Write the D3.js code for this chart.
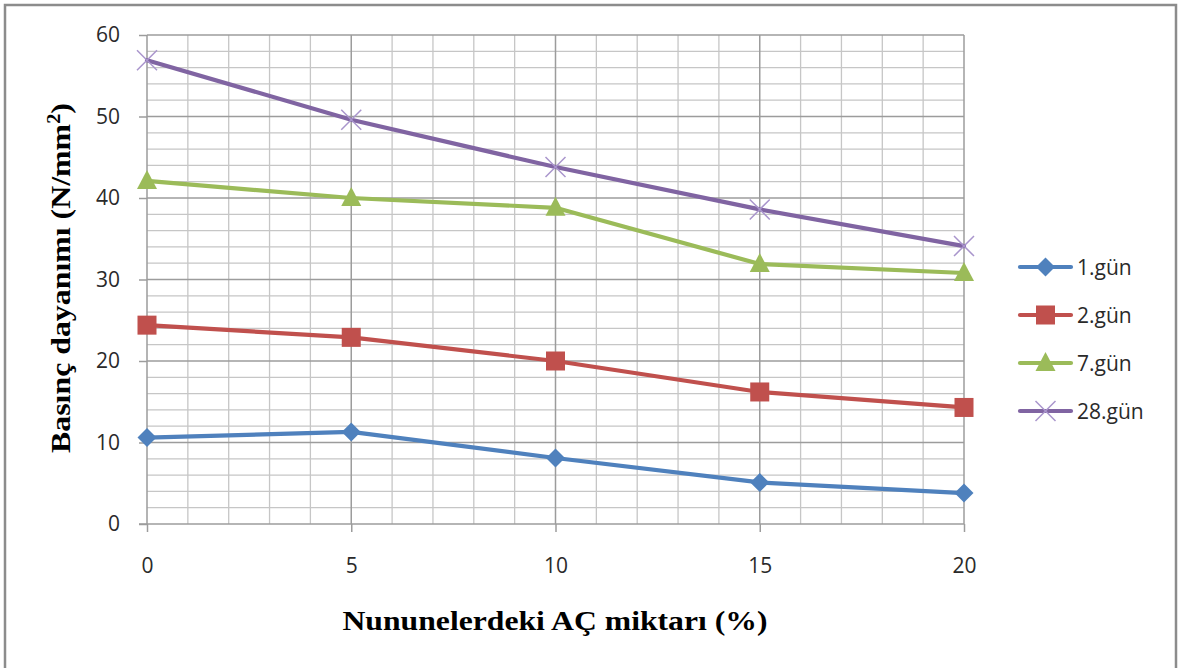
<!DOCTYPE html>
<html>
<head>
<meta charset="utf-8">
<script src="https://cdn.jsdelivr.net/npm/d3@7"></script>
<style>
  html, body { margin: 0; padding: 0; background: #fff; }
  svg { display: block; }
</style>
</head>
<body>
<svg id="chart" width="1179" height="668"></svg>
<script>
// AÇ content (%) of the specimens
const categories = [0, 5, 10, 15, 20];

// Compressive strength (N/mm²) by curing age
const gun1  = [10.6, 11.3, 8.1, 5.1, 3.8];
const gun2  = [24.4, 22.9, 20.0, 16.2, 14.3];
const gun7  = [42.1, 40.0, 38.8, 31.9, 30.8];
const gun28 = [56.9, 49.6, 43.8, 38.6, 34.1];

const seriesNames = ["1.gün", "2.gün", "7.gün", "28.gün"];
const yTicks = [0, 10, 20, 30, 40, 50, 60];
const xTicks = [0, 5, 10, 15, 20];

const seriesList = [
  { name: seriesNames[0], values: gun1,  color: "#4f81bd", marker: "diamond" },
  { name: seriesNames[1], values: gun2,  color: "#c0504d", marker: "square" },
  { name: seriesNames[2], values: gun7,  color: "#9bbb59", marker: "triangle" },
  { name: seriesNames[3], values: gun28, color: "#8064a2", marker: "cross" }
];

const labelFont = "'Open Sans', Lato, sans-serif";
const titleFont = "'Liberation Serif', 'Times New Roman', serif";

const svg = d3.select("#chart");

// outer frame
svg.append("path")
  .attr("d", "M5,668 V5 H1176 V668")
  .attr("fill", "none")
  .attr("stroke", "#8c8c8c")
  .attr("stroke-width", 2.5);

const x = d3.scaleLinear().domain([0, 20]).range([147, 964]);
const y = d3.scaleLinear().domain([0, 60]).range([524, 35]);

const grid = svg.append("g");

// minor gridlines
grid.selectAll("line.vmin")
  .data(d3.range(0, 21).filter(v => v % 5 !== 0))
  .join("line")
  .attr("x1", d => x(d)).attr("x2", d => x(d))
  .attr("y1", y(0)).attr("y2", y(60))
  .attr("stroke", "#c6c6c6").attr("stroke-width", 1.3);
grid.selectAll("line.hmin")
  .data(d3.range(0, 61, 2).filter(v => v % 10 !== 0))
  .join("line")
  .attr("x1", x(0)).attr("x2", x(20))
  .attr("y1", d => y(d)).attr("y2", d => y(d))
  .attr("stroke", "#c6c6c6").attr("stroke-width", 1.3);

// major gridlines
grid.selectAll("line.vmaj")
  .data(xTicks.slice(1))
  .join("line")
  .attr("x1", d => x(d)).attr("x2", d => x(d))
  .attr("y1", y(0)).attr("y2", y(60))
  .attr("stroke", "#9c9c9c").attr("stroke-width", 1.5);
grid.selectAll("line.hmaj")
  .data(yTicks.slice(1))
  .join("line")
  .attr("x1", x(0)).attr("x2", x(20))
  .attr("y1", d => y(d)).attr("y2", d => y(d))
  .attr("stroke", "#9c9c9c").attr("stroke-width", 1.5);

// axes
const yAxis = d3.axisLeft(y).tickValues(yTicks).tickSize(8).tickPadding(19);
const xAxis = d3.axisBottom(x).tickValues(xTicks).tickSize(8).tickPadding(26);

const gy = svg.append("g").attr("transform", `translate(${x(0)},0)`).call(yAxis);
const gx = svg.append("g").attr("transform", `translate(0,${y(0)})`).call(xAxis);

[gx, gy].forEach(g => {
  g.select(".domain").attr("stroke", "#9c9c9c").attr("stroke-width", 1.5);
  g.selectAll(".tick line").attr("stroke", "#9c9c9c").attr("stroke-width", 1.5);
  g.selectAll(".tick text")
    .attr("fill", "#2a2a2a")
    .style("font-family", labelFont)
    .style("font-size", "21px");
});
gy.select(".domain").attr("d", `M-8,${y(0)}H0V${y(60)}`);
gx.select(".domain").attr("d", `M${x(0)},0H${x(20)}`);

// marker shapes
function drawMarker(g, type, color, cx, cy) {
  if (type === "diamond") {
    g.append("path")
      .attr("d", `M${cx},${cy - 9.5}L${cx + 9.5},${cy}L${cx},${cy + 9.5}L${cx - 9.5},${cy}Z`)
      .attr("fill", color);
  } else if (type === "square") {
    g.append("rect")
      .attr("x", cx - 9.5).attr("y", cy - 9.5)
      .attr("width", 19).attr("height", 19)
      .attr("fill", color);
  } else if (type === "triangle") {
    g.append("path")
      .attr("d", `M${cx},${cy - 11}L${cx + 10},${cy + 8}L${cx - 10},${cy + 8}Z`)
      .attr("fill", color);
  } else {
    g.append("path")
      .attr("d", `M${cx - 10},${cy - 10}L${cx + 10},${cy + 10}M${cx - 10},${cy + 10}L${cx + 10},${cy - 10}`)
      .attr("stroke", "#a995cc").attr("stroke-width", 1.5).attr("fill", "none");
  }
}

const line = d3.line()
  .x((d, i) => x(categories[i]))
  .y(d => y(d));

const plot = svg.append("g");
seriesList.forEach(s => {
  plot.append("path")
    .datum(s.values)
    .attr("d", line)
    .attr("fill", "none")
    .attr("stroke", s.color)
    .attr("stroke-width", 4.2)
    .attr("stroke-linejoin", "round")
    .attr("stroke-linecap", "round");
});
seriesList.forEach(s => {
  const g = plot.append("g");
  s.values.forEach((v, i) => drawMarker(g, s.marker, s.color, x(categories[i]), y(v)));
});

// legend
const legend = svg.append("g");
seriesList.forEach((s, i) => {
  const ly = 267 + i * 48;
  const g = legend.append("g");
  g.append("line")
    .attr("x1", 1020).attr("x2", 1071)
    .attr("y1", ly).attr("y2", ly)
    .attr("stroke", s.color).attr("stroke-width", 4.2)
    .attr("stroke-linecap", "round");
  drawMarker(g, s.marker, s.color, 1045.5, ly);
  g.append("text")
    .attr("x", 1077).attr("y", ly + 7.5)
    .attr("fill", "#2a2a2a")
    .style("font-family", labelFont)
    .style("font-size", "21px")
    .text(s.name);
});

// axis titles
svg.append("text")
  .attr("x", 555).attr("y", 630)
  .attr("text-anchor", "middle")
  .attr("textLength", 425)
  .attr("lengthAdjust", "spacingAndGlyphs")
  .style("font-family", titleFont)
  .style("font-weight", "bold")
  .style("font-size", "28px")
  .attr("fill", "#000")
  .text("Nununelerdeki AÇ miktarı (%)");

const yTitle = svg.append("text")
  .attr("transform", `translate(70,278) rotate(-90)`)
  .attr("text-anchor", "middle")
  .attr("textLength", 350)
  .attr("lengthAdjust", "spacingAndGlyphs")
  .style("font-family", titleFont)
  .style("font-weight", "bold")
  .style("font-size", "28px")
  .attr("fill", "#000");
yTitle.append("tspan").text("Basınç dayanımı (N/mm");
yTitle.append("tspan").attr("dy", -10).style("font-size", "18px").text("2");
yTitle.append("tspan").attr("dy", 10).text(")");
</script>
</body>
</html>
